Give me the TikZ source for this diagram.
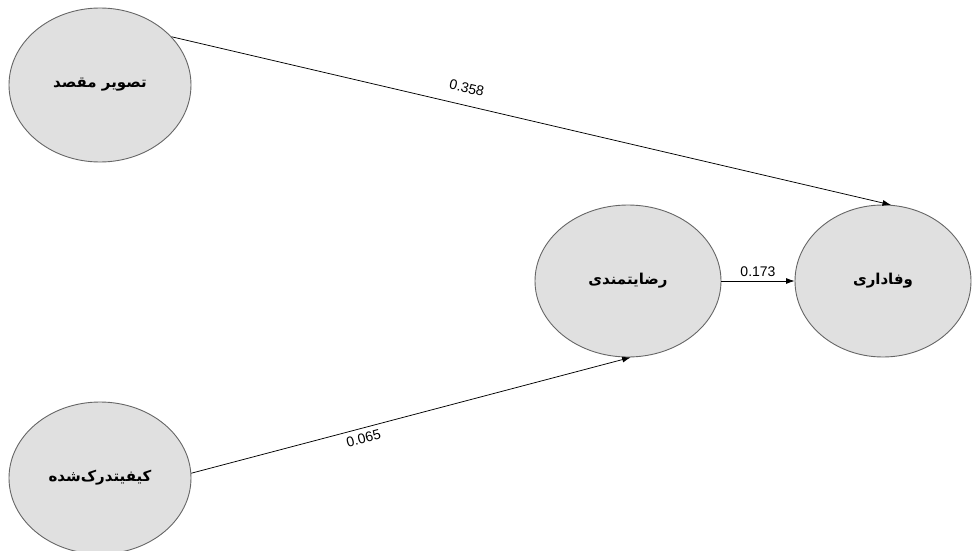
\documentclass[tikz,border=0pt]{standalone}
\usepackage{fontspec}
\setmainfont{Liberation Sans}
\newfontfamily\arabicfont[Script=Arabic]{DejaVu Sans}
\TeXXeTstate=1
\usetikzlibrary{shapes.geometric,arrows.meta}
\begin{document}
\begin{tikzpicture}[x=1pt,y=-1pt,
  construct/.style={ellipse,draw=black!60,fill=black!12,line width=0.9pt,inner sep=0pt,
    font=\arabicfont\bfseries\fontsize{15}{17}\selectfont},
  path/.style={draw=black,line width=0.75pt,-{Latex[length=8.5pt,width=6pt]}},
  coef/.style={font=\fontsize{14}{16}\selectfont,inner sep=1pt}]
\useasboundingbox (0,0) rectangle (972,551);
\node[construct,minimum width=182pt,minimum height=154pt] (img) at (100,85) {\beginR تصویر مقصد\endR};
\node[construct,minimum width=182pt,minimum height=152pt] (qual) at (100,478) {\beginR کیفیتدرک‌شده\endR};
\node[construct,minimum width=186pt,minimum height=152pt] (sat) at (628,281) {\beginR رضایتمندی\endR};
\node[construct,minimum width=176pt,minimum height=152pt] (loy) at (883,281) {\beginR وفاداری\endR};
\draw[path] (img.34) -- node[coef,pos=0.405,sloped,above=11pt] {0.358} (loy.84.5);
\draw[path] (qual.3) -- node[coef,pos=0.386,sloped,below=4pt] {0.065} (sat.-88.5);
\draw[path] (sat.east) -- node[coef,above=3pt] {0.173} (loy.west);
\end{tikzpicture}
\end{document}
